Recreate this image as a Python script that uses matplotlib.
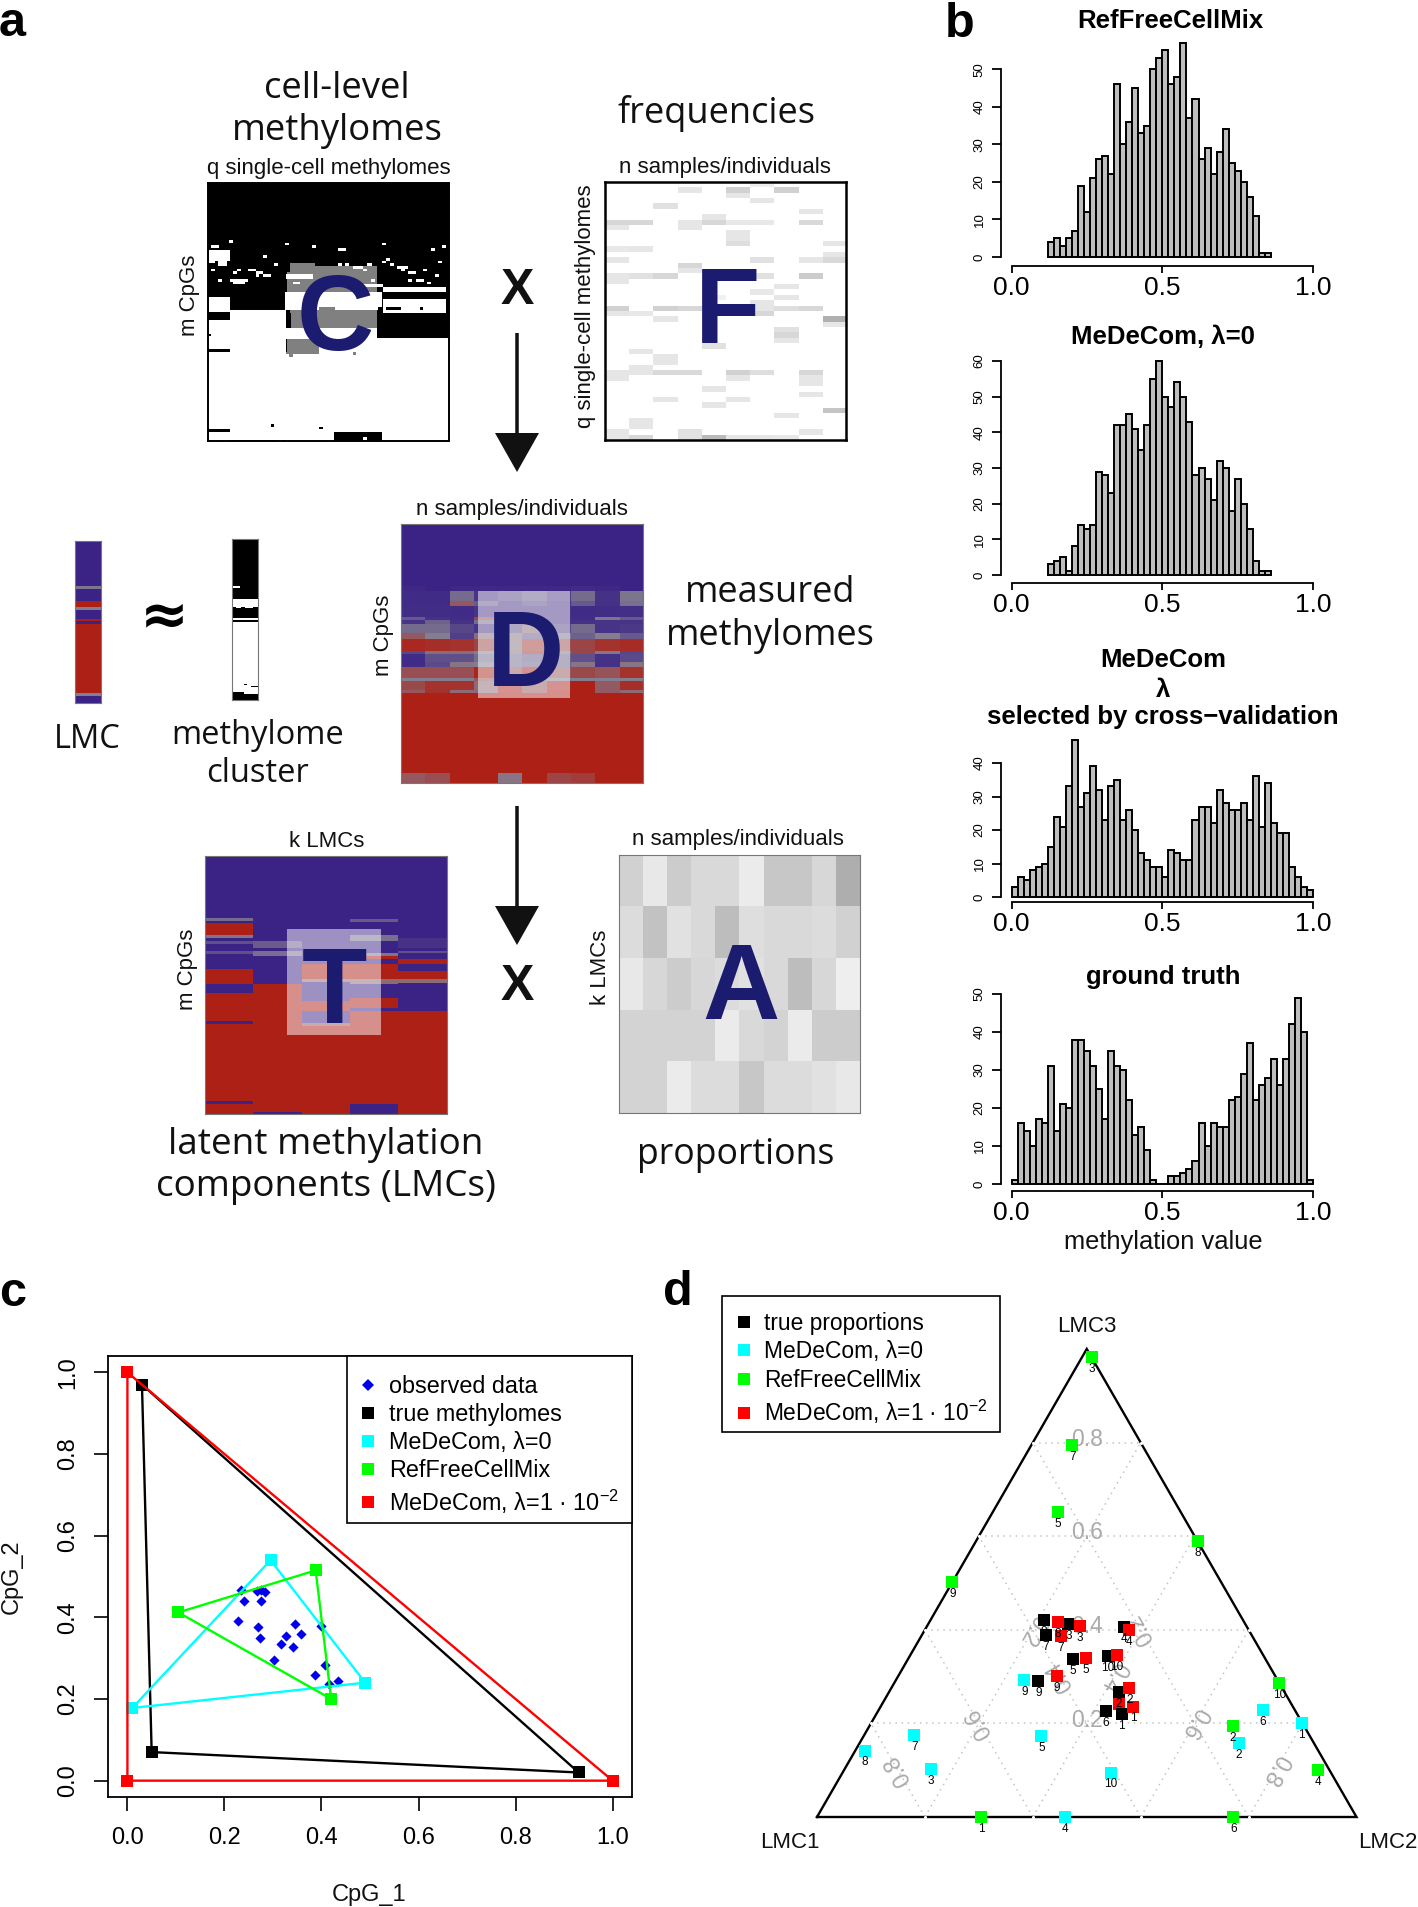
import numpy as np
import matplotlib
matplotlib.use('Agg')
import matplotlib.pyplot as plt
from matplotlib.colors import LinearSegmentedColormap
from matplotlib.lines import Line2D
from matplotlib.patches import Rectangle

W, H = 1418, 1907
plt.rcParams['font.family'] = ['Liberation Sans', 'DejaVu Sans']
plt.rcParams['mathtext.default'] = 'regular'

# ---------- panel b values ----------
hist_ref = [4,5,3,5,7,19,12,21,26,27,22,46,30,36,45,33,35,50,53,55,46,48,57,37,42,26,29,22,28,34,25,23,20,16,11,1,1]
hist_med0 = [3,4,5,1,8,14,13,14,29,28,23,42,42,45,41,35,42,55,60,50,47,54,50,43,28,30,27,21,32,30,18,27,20,13,4,1,1]
hist_cv = [3,6,5,8,9,10,15,24,21,33,47,27,31,39,32,23,33,35,23,26,20,13,11,9,9,6,14,13,11,11,23,27,27,22,32,28,26,26,28,23,36,21,34,22,19,19,9,6,3,2]
hist_truth = [1,16,14,10,17,16,31,14,21,20,38,38,35,31,25,17,35,31,30,22,13,15,9,1,0,0,2,2,3,4,6,16,10,16,15,15,22,23,29,37,22,26,28,33,26,33,42,49,40,1]
hist_start_ref = 0.12
hist_start_med0 = 0.12
hist_start_cv = 0.0
hist_start_truth = 0.0

# ---------- panel c values ----------
obs_x = [.235,.24,.268,.283,.276,.275,.227,.27,.274,.346,.358,.327,.316,.341,.302,.399,.407,.386,.416,.435]
obs_y = [.468,.44,.464,.463,.44,.467,.392,.376,.35,.384,.36,.354,.334,.328,.295,.378,.283,.258,.237,.245]
true_x = [.03,.05,.93]
true_y = [.97,.07,.02]
med0_x = [.295,.01,.49]
med0_y = [.54,.178,.24]
ref_x = [.105,.388,.42]
ref_y = [.412,.515,.20]
med2_x = [0,0,1]
med2_y = [1,0,0]
c_ticks = [0,.2,.4,.6,.8,1]

# ---------- panel d values (LMC2, LMC3 proportions for samples 1..10) ----------
sample_ids = [1,2,3,4,5,6,7,8,9,10]
tp_lmc2 = [.454,.426,.260,.366,.306,.423,.230,.210,.265,.367]
tp_lmc3 = [.221,.267,.412,.405,.337,.226,.388,.421,.291,.344]
m0_lmc2 = [.798,.702,.159,.46,.329,.712,.093,.018,.238,.497]
m0_lmc3 = [.201,.159,.103,0,.174,.228,.175,.142,.293,.095]
rf_lmc2 = [.304,.674,.018,.878,.121,.772,.076,.411,0,.714]
rf_lmc3 = [0,.194,.982,.101,.651,0,.794,.589,.502,.286]
m2_lmc2 = [.468,.441,.283,.379,.329,.440,.258,.238,.293,.383]
m2_lmc3 = [.236,.276,.408,.399,.340,.241,.387,.417,.302,.346]
tern_ticks = [.2,.4,.6,.8]

# ---------- panel a values ----------
A_row1 = [.82,.91,.80,.85,.85,.92,.78,.78,.84,.68]
A_row2 = [.86,.76,.88,.85,.74,.87,.85,.85,.86,.82]
A_row3 = [.91,.84,.80,.84,.86,.88,.85,.74,.84,.93]
A_row4 = [.83,.83,.83,.83,.92,.85,.83,.92,.80,.80]
A_row5 = [.83,.83,.92,.86,.86,.78,.86,.86,.88,.91]

# F: {row: grey} for each of 10 columns, 48 rows
F_col0 = {7:.84,8:.90,12:.91,14:.90,17:.90,18:.90,23:.82,24:.90,35:.90,36:.90,46:.90,47:.90}
F_col1 = {7:.84,12:.90,17:.88,24:.91,31:.90,34:.90,35:.90,44:.90,45:.90,47:.84}
F_col2 = {4:.88,17:.84,23:.82,25:.90,32:.90,33:.90,35:.85,40:.90}
F_col3 = {1:.90,7:.90,8:.90,15:.84,16:.90,23:.84,35:.85,46:.88,47:.88}
F_col4 = {6:.90,7:.84,21:.94,24:.94,30:.88,38:.90,41:.90,47:.73}
F_col5 = {1:.82,2:.90,7:.91,9:.90,10:.90,11:.87,35:.82,36:.90,40:.90,47:.90}
F_col6 = {0:.93,3:.90,7:.91,14:.88,17:.88,20:.91,22:.90,23:.90,24:.84,35:.87,47:.90}
F_col7 = {1:.82,19:.90,21:.90,23:.87,27:.88,28:.84,29:.90,43:.90,47:.91}
F_col8 = {5:.90,7:.85,14:.90,17:.80,23:.84,35:.84,36:.90,37:.90,39:.90,46:.90}
F_col9 = {11:.90,13:.90,14:.85,25:.69,26:.90,42:.77}

# C: cells (col0, col1, row0, row1, value) on a 723 x 773 cell grid, 0 black, 1 white, .5 grey
C_base = [(0,723,0,389,0)]
C_grey = [(246,321,241,266,.5),(246,506,249,330,.5),(238,506,266,326,.5),(246,506,381,434,.5),(234,334,466,513,.5)]
C_white = [(64,76,171,179,1),(8,32,187,195,1),(232,244,179,187,1),(311,323,187,195,1),(389,413,195,203,1),(523,535,179,187,1),
           (668,680,195,203,1),(703,715,187,195,1),(166,178,217,225,1),(199,211,241,249,1),(8,20,257,265,1),(76,88,265,273,1),
           (88,100,257,265,1),(121,145,257,265,1),(143,166,265,273,1),(166,189,273,281,1),(143,154,273,281,1),(31,43,289,297,1),
           (66,121,289,297,1),(76,111,297,303,1),(523,535,233,241,1),(535,547,225,233,1),(547,559,241,249,1),(566,601,249,257,1),
           (578,590,257,265,1),(601,624,265,273,1),(646,658,257,265,1),(680,692,273,281,1),(601,613,289,297,1),(624,648,289,297,1),
           (658,670,297,303,1),(691,703,233,241,1),(3,66,201,233,1),(3,21,233,241,1),(31,56,233,249,1),
           (234,316,273,289,1),(254,276,296,304,1),(391,401,241,249,1),(411,423,241,249,1),(434,466,249,257,1),(466,478,257,265,1),
           (476,491,241,249,1),(489,501,289,297,1),(456,524,303,311,1),(232,523,326,381,1),(524,713,311,326,1),(524,713,349,389,1),
           (3,66,342,386,1),(66,234,381,389,1),(121,131,381,389,1),(234,522,434,458,1)]
C_black = [(0,66,389,411,0),(234,248,389,434,0),(506,723,389,464,0),(511,523,373,381,0),(533,579,373,381,0),(636,646,373,381,0),
           (0,10,451,459,0),(0,66,497,505,0),(234,238,466,506,0),(188,198,722,730,0),(333,344,730,738,0),(0,66,738,746,0),
           (378,523,746,773,0),(66,211,769,773,0),(221,234,769,773,0)]
C_spots = [(244,254,513,521,.5),(434,444,506,514,.5),(466,478,762,770,1),(334,382,373,381,.5)]

# D: row edges (top to bottom, cell units) and per-row values for the 10 samples; 0 blue, 1 red
D_edges = [0,188,203,233,248,280,290,303,328,348,383,391,415,430,463,471,498,508,748,777]
D_r0  = [0]*10
D_r1  = [.03,0,.03,.03,.03,.03,.03,.05,.03,0]
D_r2  = [.05,.05,.4,.1,.2,.3,.15,.4,.08,.45]
D_r3  = [.05,.05,.7,.3,.1,.2,.1,.3,.08,.42]
D_r4  = [.06,.06,.05,.1,.1,.1,.1,.05,.06,.07]
D_r5  = [.3,.08,.06,.8,.1,.2,.1,.06,.45,.3]
D_r6  = [.1,.35,.08,.4,.1,.2,.1,.08,.1,.1]
D_r7  = [.4,.4,.2,.1,.25,.6,.2,.4,.1,.12]
D_r8  = [.7,.5,.15,.6,.55,.3,.45,.35,.5,.3]
D_r9  = [.95,.92,.9,.8,.55,.85,.75,.8,.9,.93]
D_r10 = [.2,.6,.6,.5,.45,.9,.45,.8,.55,.2]
D_r11 = [.05,.25,.25,.4,.4,.3,.35,.25,.08,.22]
D_r12 = [.05,.22,.55,.5,.4,.35,.35,.55,.08,.55]
D_r13 = [.75,.75,.75,.97,.7,.95,.7,.78,.72,.9]
D_r14 = [.5,.5,.5,.7,.5,.4,.5,.5,.5,.5]
D_r15 = [.78,.9,.9,.6,.95,.7,.95,1,.68,.92]
D_r16 = [.7,.9,.6,.6,.95,.7,1,1,.68,.6]
D_r17 = [1]*10
D_r18 = [.7,.75,1,1,.55,1,.8,.85,1,1]

# T: bands (bottom edge in cell units, value) for each of the 5 LMCs
T_col0 = [(188,0),(198,.4),(203,0),(241,1),(249,.45),(258,0),(266,.25),(288,0),(296,.25),(341,0),(388,1),(413,0),(498,1),(505,0),(738,1),(746,0),(776,1)]
T_col1 = [(258,0),(280,.32),(288,0),(303,.42),(388,0),(769,1),(776,0)]
T_col2 = [(328,0),(373,1),(381,.6),(438,0),(468,1),(503,0),(513,.7),(776,1)]
T_col3 = [(193,0),(201,.3),(241,0),(257,.42),(295,0),(303,.45),(311,1),(328,0),(373,1),(388,.6),(428,0),(458,1),(466,0),(746,1),(776,0)]
T_col4 = [(248,0),(278,.08),(288,0),(295,.25),(311,0),(327,1),(349,0),(373,1),(383,.6),(467,0),(776,1)]

# single columns: bands (bottom edge, value)
LMC_bands = [(138,0),(145,.45),(183,0),(201,1),(208,.5),(236,0),(242,1),(250,0),(458,1),(465,.5),(487,0)]
cluster_bands = [(181,0),(203,1),(208,0),(238,0),(243,1),(249,0),(460,1),(484,0)]
cluster_spots = [(0,25,141,146,1),(0,80,181,203,1),(12,26,203,208,1),(40,62,203,208,1),(35,45,436,440,0),(55,77,441,445,0),(35,80,460,465,1)]

# ---------- helpers ----------
fig = plt.figure(figsize=(W/100, H/100), dpi=100, facecolor='white')

def px_axes(x0, y0, x1, y1, **kw):
    return fig.add_axes([x0/W, 1-y1/H, (x1-x0)/W, (y1-y0)/H], **kw)

BLUE, RED = '#3a2385', '#ad2016'
cmap_mr = LinearSegmentedColormap.from_list('mr', [BLUE, '#847e90', RED])

def heat(box, data, cmap, vmin=0, vmax=1, edge='#777777', lw=.8):
    ax = px_axes(*box)
    ax.imshow(data, cmap=cmap, vmin=vmin, vmax=vmax, aspect='auto', interpolation='nearest')
    ax.set_xticks([]); ax.set_yticks([])
    for s in ax.spines.values():
        s.set_color(edge); s.set_linewidth(lw)
    return ax

def paint(grid, cells):
    for c0, c1, r0, r1, v in cells:
        grid[r0:r1, c0:c1] = v

def bands(cols, n):
    g = np.zeros((n, len(cols)))
    for j, col in enumerate(cols):
        top = 0
        for end, v in col:
            g[top:end, j] = v
            top = end
    return g

# C
C = np.ones((773, 723))
for cells in (C_base, C_grey, C_white, C_black, C_spots):
    paint(C, cells)
heat((208,183,449,441), C, 'gray', edge='black', lw=1.4)

# F
F = np.ones((48, 10))
for j, col in enumerate([F_col0,F_col1,F_col2,F_col3,F_col4,F_col5,F_col6,F_col7,F_col8,F_col9]):
    for r, v in col.items():
        F[r, j] = v
heat((604.7,182,846,440), F, 'gray', edge='black', lw=1.8)

# D
D_rows = [D_r0,D_r1,D_r2,D_r3,D_r4,D_r5,D_r6,D_r7,D_r8,D_r9,D_r10,D_r11,D_r12,D_r13,D_r14,D_r15,D_r16,D_r17,D_r18]
D = np.zeros((D_edges[-1], 10))
for i, row in enumerate(D_rows):
    D[D_edges[i]:D_edges[i+1], :] = row
heat((400.7,523.7,643,782.7), D, cmap_mr)

# T
T = bands([T_col0,T_col1,T_col2,T_col3,T_col4], 776)
heat((205,855.7,447,1114), T, cmap_mr)

# A
heat((619,855,860,1113), np.array([A_row1,A_row2,A_row3,A_row4,A_row5]), 'gray')

# LMC and cluster
heat((74.7,540.7,101,703), bands([LMC_bands], 487), cmap_mr)
cl = np.repeat(bands([cluster_bands], 484), 80, axis=1)
paint(cl, cluster_spots)
heat((231.7,539,258,700), cl, 'gray')

# overlay in pixels
ov = fig.add_axes([0,0,1,1], zorder=10)
ov.set_xlim(0, W); ov.set_ylim(H, 0); ov.axis('off'); ov.patch.set_alpha(0)

for (x0,y0,x1,y1) in [(477.7,591,570,698),(286.7,929,380.7,1035)]:
    ov.add_patch(Rectangle((x0,y0), x1-x0, y1-y0, fc='white', ec='none', alpha=.5))

NAVY = '#1b1b6f'
for s, x, y in [('C',335,350),('F',728,343),('D',525,686),('T',334,1023),('A',741,1019)]:
    ov.text(x, y, s, fontsize=77, fontweight='bold', color=NAVY, ha='center', va='baseline')

OS = ['Open Sans','DejaVu Sans']
for s, x, y, fs in [('cell-level',337,89,26.3),('methylomes',337,131,26.3),('frequencies',717,114,26),('measured',770,593,26),('methylomes',770,636,26),
                ('LMC',87,739,23.5),('methylome',258,735,23.5),('cluster',258,774,23.5),('latent methylation',326,1145,26.6),
                ('components (LMCs)',326,1187,26.6),('proportions',736,1155,25.7)]:
    ov.text(x, y, s, fontsize=fs, family=OS, color='#111111', ha='center', va='center')

for s, x, y, r in [('q single-cell methylomes',329,168.5,0),('n samples/individuals',724.5,167.5,0),('m CpGs',190,295,90),
                   ('q single-cell methylomes',586,306,90),('n samples/individuals',521.5,509,0),('m CpGs',384,635,90),
                   ('k LMCs',327,841.5,0),('m CpGs',188,969,90),('n samples/individuals',738,839,0),('k LMCs',601,967,90)]:
    ov.text(x, y, s, fontsize=16, rotation=r, color='#111111', ha='center', va='center')

for x, y in [(517,291),(517,987)]:
    ov.text(x, y, 'X', fontsize=36, fontweight='bold', color='#111111', ha='center', va='center')
for y0, y1 in [(333,472),(806,945)]:
    ov.arrow(517, y0, 0, y1-y0, width=3.5, head_width=44, head_length=39, length_includes_head=True, color='#111111', lw=0)
ov.text(164, 617, '≈', fontsize=42, fontweight='bold', family=['DejaVu Sans'], color='black', ha='center', va='center')

for s, x, y in [('a',-1,36),('b',945,37),('c',-1,1306),('d',663,1305)]:
    ov.text(x, y, s, fontsize=35, fontweight='bold', ha='left', va='baseline', color='black')

# ---------- histograms ----------
def hist_panel(counts, start, y0, ytop, ymax, step, drop):
    ax = px_axes(1011.7, ytop, 1313, y0)
    ax.patch.set_alpha(0)
    edges = start + np.arange(len(counts))*0.02
    ax.bar(edges, counts, width=0.02, align='edge', color='#bebebe', edgecolor='black', linewidth=1.4, clip_on=False)
    ax.set_xlim(0, 1); ax.set_ylim(0, ymax)
    for s in ('top','right'):
        ax.spines[s].set_visible(False)
    for s in ('left','bottom'):
        ax.spines[s].set_linewidth(1.3)
    ax.spines['left'].set_position(('outward', 10.7*.72))
    ax.spines['bottom'].set_position(('outward', drop*.72))
    ax.spines['bottom'].set_bounds(0, 1)
    ax.set_xticks([0,.5,1]); ax.set_xticklabels(['0.0','0.5','1.0'], fontsize=19)
    ax.set_yticks(np.arange(0, ymax+1, step))
    ax.tick_params(axis='x', length=5, width=1.3, pad=2.2)
    ax.tick_params(axis='y', length=6.5, width=1.3, labelsize=9.5, pad=4.5)
    for t in ax.get_yticklabels():
        t.set_rotation(90); t.set_va('center')
    return ax

hist_panel(hist_ref, hist_start_ref, 257, 69.2, 50, 10, 9)
hist_panel(hist_med0, hist_start_med0, 575, 361, 60, 10, 8)
hist_panel(hist_cv, hist_start_cv, 897, 763, 40, 10, 5)
hist_panel(hist_truth, hist_start_truth, 1184, 994, 50, 10, 6.5)
for s, x, y in [('RefFreeCellMix',1170,21),('MeDeCom, λ=0',1163,337),('MeDeCom',1163,660),('λ',1163,690),
                ('selected by cross−validation',1163,717),('ground truth',1163,977)]:
    ov.text(x, y, s, fontsize=18.5, fontweight='bold', ha='center', va='center', color='black')
ov.text(1163, 1242.5, 'methylation value', fontsize=18.4, ha='center', va='center', color='#111111')

# ---------- panel c ----------
axc = px_axes(108, 1356, 632, 1797)
axc.set_xlim(-.04, 1.04); axc.set_ylim(-.04, 1.04)
def tri(ax, xs, ys, col):
    ax.plot(list(xs)+[xs[0]], list(ys)+[ys[0]], color=col, lw=1.7, zorder=3, solid_joinstyle='miter')
    ax.scatter(xs, ys, marker='s', s=68, color=col, zorder=3, clip_on=False, linewidths=0)
axc.scatter(obs_x, obs_y, marker='D', s=27, color='#0000ee', zorder=2, linewidths=0)
tri(axc, true_x, true_y, 'black')
tri(axc, med0_x, med0_y, '#00ffff')
tri(axc, ref_x, ref_y, '#00ff00')
tri(axc, med2_x, med2_y, '#ff0000')
axc.set_xticks(c_ticks); axc.set_yticks(c_ticks)
axc.set_xticklabels(['0.0','0.2','0.4','0.6','0.8','1.0'], fontsize=17)
axc.set_yticklabels(['0.0','0.2','0.4','0.6','0.8','1.0'], fontsize=17, rotation=90, va='center')
axc.tick_params(axis='x', length=10, width=1.2, pad=11.5)
axc.tick_params(axis='y', length=10, width=1.2, pad=10.5)
for s in axc.spines.values():
    s.set_linewidth(1.3)
ov.text(369, 1895, 'CpG_1', fontsize=17, ha='center', va='center', color='#111111')
ov.text(12, 1577, 'CpG_2', fontsize=17, rotation=90, ha='center', va='center', color='#111111')

def sq(col, mk='s', ms=8):
    return Line2D([], [], marker=mk, ls='none', color=col, markersize=ms, markeredgewidth=0)
LAMBDA2 = 'MeDeCom, λ=1 · 10$^{-2}$'
ov.add_patch(Rectangle((347,1356), 285, 167, fc='white', ec='black', lw=1.2, zorder=1))
lc = ov.legend([sq('#0000ee','D',6.5), sq('black'), sq('#00ffff'), sq('#00ff00'), sq('#ff0000')],
          ['observed data','true methylomes','MeDeCom, λ=0','RefFreeCellMix',LAMBDA2],
          loc='upper left', bbox_to_anchor=(353/W, 1-1375/H), bbox_transform=fig.transFigure, frameon=False,
          fontsize=16.8, labelspacing=.22, handletextpad=.25, borderpad=0, borderaxespad=0, handlelength=1.3)
ov.add_artist(lc)

# ---------- panel d ----------
axd = px_axes(817, 1349, 1356.5, 1817)
axd.axis('off'); axd.set_xlim(0,1); axd.set_ylim(0,1); axd.patch.set_alpha(0)
def xy(b, c):
    return np.asarray(b) + np.asarray(c)/2, np.asarray(c)
GRID = '#c4c4c4'
for t in tern_ticks:
    for p, q in [((0,t),(1-t,t)), ((t,0),(t,1-t)), ((1-t,0),(0,1-t))]:
        (x0,y0),(x1,y1) = xy(p[0],p[1]), xy(q[0],q[1])
        axd.plot([x0,x1],[y0,y1], ls=(0,(1,3)), color=GRID, lw=1.1, zorder=1)
tx, ty = xy([0,1,0,0],[0,0,1,0])
axd.plot(tx, ty, color='black', lw=1.7, zorder=1.5, clip_on=False, solid_joinstyle='miter')
for t in tern_ticks:
    for b, c in [(0,t),(1-t,t),(t,0)]:
        x, y = xy(b,c)
        axd.scatter([x],[y], marker='o', s=5, color='white', zorder=1.6, linewidths=0, clip_on=False)
    lab = f'{t:.1f}'
    x, y = xy((1-t)/2, t)
    axd.text(x, y+.007, lab, fontsize=16.5, color='#aaaaaa', ha='center', va='center', zorder=1.7)
    x, y = xy((1-t)/2, (1-t)/2)          # LMC1 scale
    axd.text(x, y, lab, fontsize=16.5, color='#aaaaaa', rotation=120, rotation_mode='anchor', ha='center', va='center', zorder=1.7)
    x, y = xy(t, (1-t)/2)                # LMC2 scale
    axd.text(x, y, lab, fontsize=16.5, color='#aaaaaa', rotation=-120, rotation_mode='anchor', ha='center', va='center', zorder=1.7)

def tern_series(b, c, col, z=3, hidden=()):
    x, y = xy(b, c)
    for xi, yi, sid in zip(x, y, sample_ids):
        low = sid in hidden
        axd.scatter([xi],[yi], marker='s', s=66, color=col, linewidths=0, clip_on=False, zorder=2.5 if low and col=='#ff0000' else z)
        axd.annotate(str(sid), (xi,yi), xytext=(0,-8.6), textcoords='offset points', fontsize=8.5, ha='center', va='center',
                     color='black', zorder=2.7 if low else 6)
tern_series(tp_lmc2, tp_lmc3, 'black', 3, hidden=(8,))
tern_series(m0_lmc2, m0_lmc3, '#00ffff', 3.2)
tern_series(rf_lmc2, rf_lmc3, '#00ff00', 3.4)
tern_series(m2_lmc2, m2_lmc3, '#ff0000', 3.6, hidden=(6,))
ov.text(1086.8, 1327, 'LMC3', fontsize=16, ha='center', va='center', color='#111111')
ov.text(789.5, 1843, 'LMC1', fontsize=16, ha='center', va='center', color='#111111')
ov.text(1388, 1843, 'LMC2', fontsize=16, ha='center', va='center', color='#111111')

ov.add_patch(Rectangle((722,1296), 278, 135.5, fc='white', ec='black', lw=1.2, zorder=1))
ov.legend([sq('black'), sq('#00ffff'), sq('#00ff00'), sq('#ff0000')],
          ['true proportions','MeDeCom, λ=0','RefFreeCellMix',LAMBDA2],
          loc='upper left', bbox_to_anchor=(729/W, 1-1312/H), bbox_transform=fig.transFigure, frameon=False,
          fontsize=16.4, labelspacing=.24, handletextpad=.25, borderpad=0, borderaxespad=0, handlelength=1.3)

fig.savefig('out.png', dpi=100, facecolor='white')
